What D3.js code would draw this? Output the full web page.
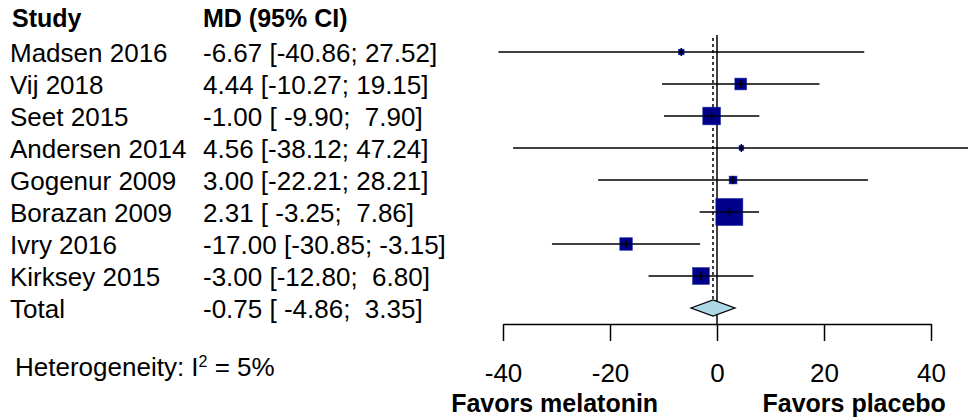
<!DOCTYPE html>
<html>
<head>
<meta charset="utf-8">
<script src="https://d3js.org/d3.v7.min.js"></script>
<style>
	body { margin: 0; background: #fff; }
	svg { display: block; font-family: "Liberation Sans", Arial, sans-serif; }
	.pre { white-space: pre; }
</style>
</head>
<body>
<div id="chart"></div>
<script>
	// study data
	var studies = ["Madsen 2016","Vij 2018","Seet 2015","Andersen 2014","Gogenur 2009","Borazan 2009","Ivry 2016","Kirksey 2015"];
	var md    = [-6.67, 4.44, -1.00, 4.56, 3.00, 2.31, -17.00, -3.00];
	var lower = [-40.86, -10.27, -9.90, -38.12, -22.21, -3.25, -30.85, -12.80];
	var upper = [27.52, 19.15, 7.90, 47.24, 28.21, 7.86, -3.15, 6.80];
	var ciText = ["-6.67 [-40.86; 27.52]","4.44 [-10.27; 19.15]","-1.00 [ -9.90;  7.90]","4.56 [-38.12; 47.24]",
		"3.00 [-22.21; 28.21]","2.31 [ -3.25;  7.86]","-17.00 [-30.85; -3.15]","-3.00 [-12.80;  6.80]"];
	// approximate weights (%) judged from square sizes
	var weights = [1.8, 8, 18, 1.3, 3.5, 42, 9, 16];

	var totalLabel = "Total";
	var totalMD = -0.75, totalLower = -4.86, totalUpper = 3.35;
	var totalText = "-0.75 [ -4.86;  3.35]";
	var axisTicks = [-40, -20, 0, 20, 40];

	var width = 968, height = 417;
	var svg = d3.select("#chart").append("svg")
		.attr("width", width)
		.attr("height", height);

	var x = d3.scaleLinear().domain([-40, 40]).range([503, 931]);
	var rows = studies.concat([totalLabel]);
	var y = d3.scalePoint().domain(d3.range(rows.length)).range([52, 308]);
	var size = d3.scaleSqrt().domain([0, 42]).range([0, 27]);

	// headers
	svg.append("text").attr("x", 12).attr("y", 27)
		.attr("font-size", 25).attr("font-weight", "bold").text("Study");
	svg.append("text").attr("x", 203).attr("y", 27)
		.attr("font-size", 25).attr("font-weight", "bold").text("MD (95% CI)");

	// row labels
	svg.selectAll("text.study").data(rows).enter().append("text")
		.attr("class", "study")
		.attr("x", 10)
		.attr("y", function(d, i){ return y(i) + 10; })
		.attr("font-size", 26)
		.text(function(d){ return d; });

	svg.selectAll("text.ci").data(ciText.concat([totalText])).enter().append("text")
		.attr("class", "ci pre")
		.attr("x", 203)
		.attr("y", function(d, i){ return y(i) + 10; })
		.attr("font-size", 26)
		.text(function(d){ return d; });

	// heterogeneity
	var het = svg.append("text").attr("x", 15).attr("y", 376).attr("font-size", 26);
	het.append("tspan").text("Heterogeneity: I");
	het.append("tspan").attr("font-size", 16).attr("dy", -9).text("2");
	het.append("tspan").attr("dy", 9).text(" = 5%");

	// reference lines
	svg.append("line")
		.attr("x1", x(0)).attr("x2", x(0))
		.attr("y1", 35).attr("y2", 324)
		.attr("stroke", "#000").attr("stroke-width", 1.5);
	svg.append("line")
		.attr("x1", x(totalMD)).attr("x2", x(totalMD))
		.attr("y1", 38).attr("y2", 300)
		.attr("stroke", "#000").attr("stroke-width", 1.5)
		.attr("stroke-dasharray", "3,3");

	// confidence intervals
	svg.selectAll("line.ci").data(studies).enter().append("line")
		.attr("x1", function(d, i){ return x(lower[i]); })
		.attr("x2", function(d, i){ return Math.min(x(upper[i]), width); })
		.attr("y1", function(d, i){ return y(i); })
		.attr("y2", function(d, i){ return y(i); })
		.attr("stroke", "#000").attr("stroke-width", 1.5);

	// weight squares
	svg.selectAll("rect.w").data(studies).enter().append("rect")
		.attr("x", function(d, i){ return x(md[i]) - size(weights[i]) / 2; })
		.attr("y", function(d, i){ return y(i) - size(weights[i]) / 2; })
		.attr("width", function(d, i){ return size(weights[i]); })
		.attr("height", function(d, i){ return size(weights[i]); })
		.attr("fill", "#00008b")
		.attr("stroke", "#1a2aa0").attr("stroke-width", 0.6);

	// point estimate marks
	svg.selectAll("line.pt").data(studies).enter().append("line")
		.attr("x1", function(d, i){ return x(md[i]); })
		.attr("x2", function(d, i){ return x(md[i]); })
		.attr("y1", function(d, i){ return y(i) - 4; })
		.attr("y2", function(d, i){ return y(i) + 4; })
		.attr("stroke", "#000").attr("stroke-width", 1.5);
	svg.selectAll("line.ci2").data(studies).enter().append("line")
		.attr("x1", function(d, i){ return Math.max(x(lower[i]), x(md[i]) - size(weights[i]) / 2); })
		.attr("x2", function(d, i){ return Math.min(x(upper[i]), x(md[i]) + size(weights[i]) / 2); })
		.attr("y1", function(d, i){ return y(i); })
		.attr("y2", function(d, i){ return y(i); })
		.attr("stroke", "#000").attr("stroke-width", 1.2);

	// pooled diamond
	var ty = y(rows.length - 1);
	svg.append("path")
		.attr("d", "M" + x(totalLower) + "," + ty +
			"L" + x(totalMD) + "," + (ty - 8) +
			"L" + x(totalUpper) + "," + ty +
			"L" + x(totalMD) + "," + (ty + 8) + "Z")
		.attr("fill", "#add8e6")
		.attr("stroke", "#000").attr("stroke-width", 1.3);

	// x axis
	var axis = svg.append("g")
		.attr("transform", "translate(0,324)")
		.call(d3.axisBottom(x).tickValues(axisTicks).tickSize(17).tickSizeOuter(0)
			.tickFormat(function(d){ return d; }));
	axis.select(".domain").attr("stroke-width", 1.5);
	axis.selectAll(".tick line").attr("stroke-width", 1.5);
	axis.selectAll(".tick text")
		.attr("y", 58).attr("dy", 0)
		.attr("font-size", 26)
		.attr("font-family", "Liberation Sans, Arial, sans-serif")
		.attr("fill", "#000");

	svg.append("text")
		.attr("x", x(-11)).attr("y", 412)
		.attr("text-anchor", "end")
		.attr("font-size", 25).attr("font-weight", "bold")
		.text("Favors melatonin");
	svg.append("text")
		.attr("x", x(8.5)).attr("y", 412)
		.attr("font-size", 25).attr("font-weight", "bold")
		.text("Favors placebo");
</script>
</body>
</html>
